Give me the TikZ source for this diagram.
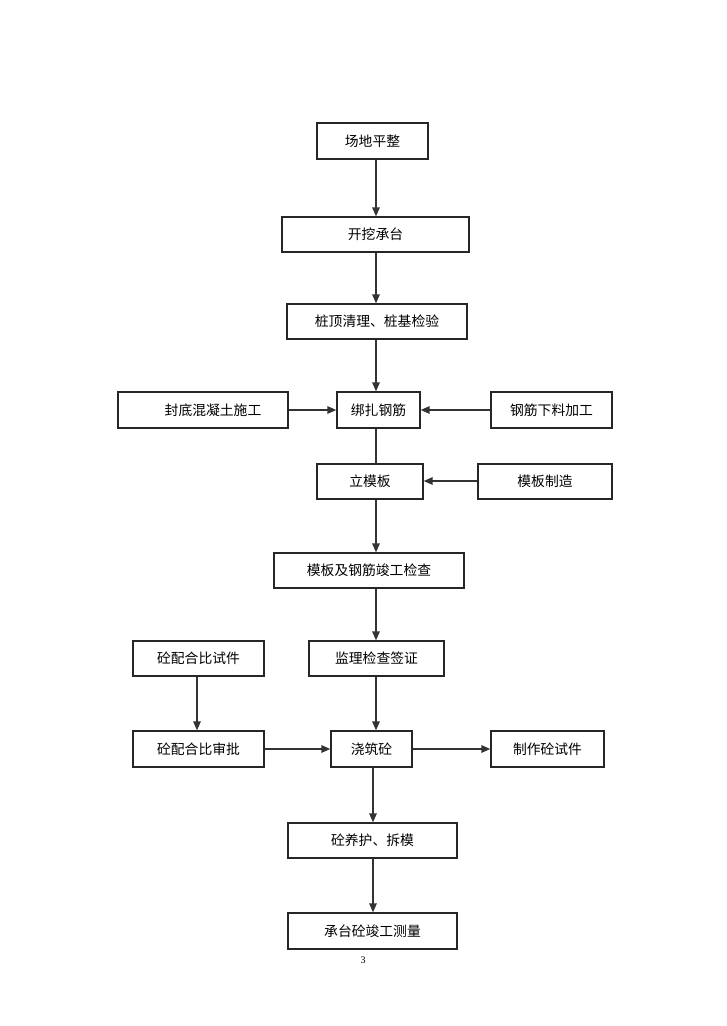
\documentclass[tikz,border=0pt]{standalone}
\usepackage{fontspec}
\newfontfamily\cjk{Noto Sans CJK SC}
\setmainfont{Liberation Serif}
\usetikzlibrary{arrows.meta}
\begin{document}
\begin{tikzpicture}[x=1pt,y=-1pt,
  box/.style={draw=black!85,line width=1.4pt,fill=white,rectangle,inner sep=0pt,
    font=\cjk\fontsize{13.8}{15}\selectfont,text=black},
  link/.style={draw=black!80,line width=1.5pt},
  arr/.style={link,-{Triangle[length=9pt,width=7.5pt]}}]
\useasboundingbox (0,0) rectangle (726,1026);
% helper: box by corners
\newcommand{\bx}[6]{\node[box,minimum width={#3-#1},minimum height={#4-#2}] (#5) at ({(#1+#3)/2},{(#2+#4)/2}) {#6};}
\bx{317}{123}{428}{159}{b1}{场地平整}
\bx{282}{217}{469}{252}{b2}{开挖承台}
\bx{287}{304}{467}{339}{b3}{桩顶清理、桩基检验}
\bx{118}{392}{288}{428}{b4}{\hspace*{20pt}封底混凝土施工}
\bx{337}{392}{420}{428}{b5}{绑扎钢筋}
\bx{491}{392}{612}{428}{b6}{钢筋下料加工}
\bx{317}{464}{423}{499}{b7}{立模板}
\bx{478}{464}{612}{499}{b8}{模板制造}
\bx{274}{553}{464}{588}{b9}{模板及钢筋竣工检查}
\bx{133}{641}{264}{676}{b10}{砼配合比试件}
\bx{309}{641}{444}{676}{b11}{监理检查签证}
\bx{133}{731}{264}{767}{b12}{砼配合比审批}
\bx{331}{731}{412}{767}{b13}{浇筑砼}
\bx{491}{731}{604}{767}{b14}{制作砼试件}
\bx{288}{823}{457}{858}{b15}{砼养护、拆模}
\bx{288}{913}{457}{949}{b16}{承台砼竣工测量}
\coordinate (sp) at (376,0);
\coordinate (sq) at (373,0);
\coordinate (sr) at (197,0);
\coordinate (h8) at (0,481);
\node[font=\fontsize{10}{11}\selectfont] (pg) at (363,960) {3};
% spine
\draw[arr] (b1.south -| sp) -- (b2.north -| sp);
\draw[arr] (b2.south -| sp) -- (b3.north -| sp);
\draw[arr] (b3.south -| sp) -- (b5.north -| sp);
\draw[link] (b5.south -| sp) -- (b7.north -| sp);
\draw[arr] (b7.south -| sp) -- (b9.north -| sp);
\draw[arr] (b9.south -| sp) -- (b11.north -| sp);
\draw[arr] (b11.south -| sp) -- (b13.north -| sp);
\draw[arr] (b13.south -| sq) -- (b15.north -| sq);
\draw[arr] (b15.south -| sq) -- (b16.north -| sq);
% side branches
\draw[arr] (b4.east) -- (b5.west);
\draw[arr] (b6.west) -- (b5.east);
\draw[arr] (b8.west |- h8) -- (b7.east |- h8);
\draw[arr] (b10.south -| sr) -- (b12.north -| sr);
\draw[arr] (b12.east) -- (b13.west);
\draw[arr] (b13.east) -- (b14.west);
\end{tikzpicture}
\end{document}
